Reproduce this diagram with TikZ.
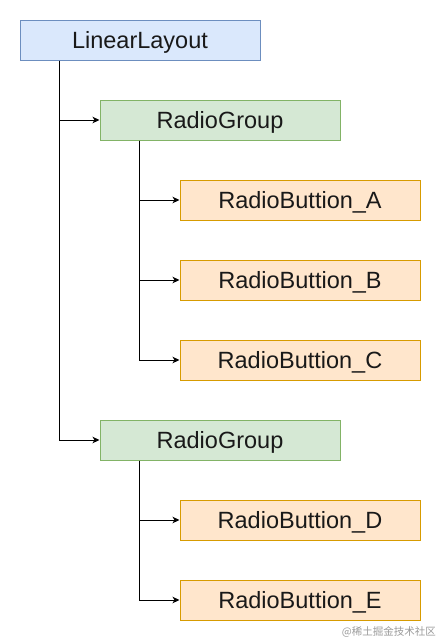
\documentclass[tikz,border=0pt]{standalone}
\usepackage{fontspec}
\setmainfont{Liberation Sans}
\newfontfamily\cjk{Noto Sans CJK SC}
\usetikzlibrary{arrows.meta}
\definecolor{bluefill}{HTML}{DAE8FC}
\definecolor{bluedraw}{HTML}{6C8EBF}
\definecolor{greenfill}{HTML}{D5E8D4}
\definecolor{greendraw}{HTML}{82B366}
\definecolor{orangefill}{HTML}{FFE6CC}
\definecolor{orangedraw}{HTML}{D79B00}
\definecolor{wmgray}{HTML}{9A9A9A}
\tikzset{
  box/.style={rectangle, minimum width=240pt, minimum height=40pt, inner sep=0pt,
    text height=16.8pt, text depth=0pt,
    line width=1pt, font=\fontsize{23.5}{28}\selectfont, text=black!90},
  rootbox/.style={box, fill=bluefill, draw=bluedraw},
  groupbox/.style={box, fill=greenfill, draw=greendraw},
  buttonbox/.style={box, fill=orangefill, draw=orangedraw},
  arr/.style={line width=1pt, draw=black, -{Stealth[length=7pt,width=6.5pt,inset=2pt]}},
  watermark/.style={font=\cjk\fontsize{10.5}{12}\selectfont, text=wmgray, inner sep=0pt}
}
\begin{document}
\begin{tikzpicture}[x=1pt,y=-1pt]
\useasboundingbox (0,0) rectangle (441,641);
\node[rootbox] (ll) at (140,40) {LinearLayout};
\node[groupbox] (rg1) at (220,120) {RadioGroup};
\node[buttonbox] (ba) at (300,200) {RadioButtion\_A};
\node[buttonbox] (bb) at (300,280) {RadioButtion\_B};
\node[buttonbox] (bc) at (300,360) {RadioButtion\_C};
\node[groupbox] (rg2) at (220,440) {RadioGroup};
\node[buttonbox] (bd) at (300,520) {RadioButtion\_D};
\node[buttonbox] (be) at (300,600) {RadioButtion\_E};
\coordinate (llx) at ([xshift=40pt]ll.south west);
\coordinate (rg1x) at ([xshift=40pt]rg1.south west);
\coordinate (rg2x) at ([xshift=40pt]rg2.south west);
\draw[arr] (llx) |- (rg1.west);
\draw[arr] (llx) |- (rg2.west);
\draw[arr] (rg1x) |- (ba.west);
\draw[arr] (rg1x) |- (bb.west);
\draw[arr] (rg1x) |- (bc.west);
\draw[arr] (rg2x) |- (bd.west);
\draw[arr] (rg2x) |- (be.west);
\node[watermark, anchor=east] (wm) at (436,632) {@稀土掘金技术社区};
\end{tikzpicture}
\end{document}
